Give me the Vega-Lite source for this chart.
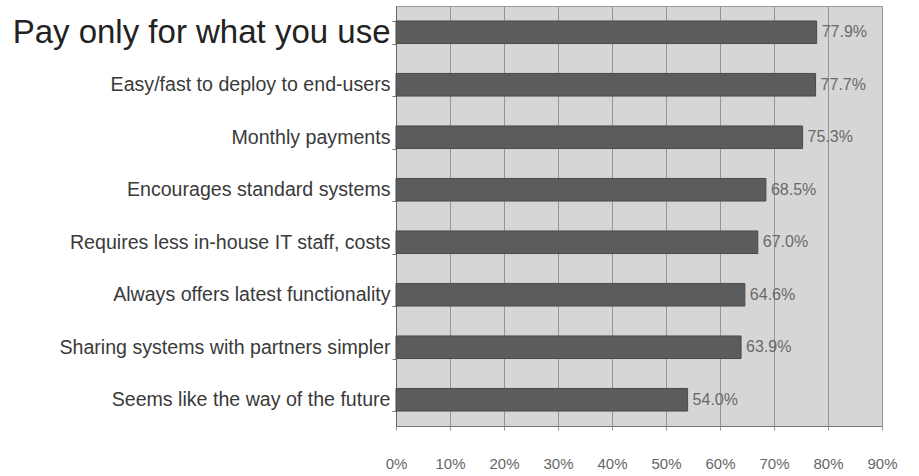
{
  "$schema": "https://vega.github.io/schema/vega-lite/v6.json",
  "autosize": "none",
  "width": 486,
  "height": 420,
  "padding": {"left": 396, "top": 6, "right": 37, "bottom": 50},
  "background": "white",
  "config": {
    "view": {"fill": "#d6d6d6", "stroke": "#9a9a9a", "strokeWidth": 1},
    "font": "Liberation Sans"
  },
  "data": {
    "values": [
      {"reason": "Pay only for what you use", "share": 0.779},
      {"reason": "Easy/fast to deploy to end-users", "share": 0.777},
      {"reason": "Monthly payments", "share": 0.753},
      {"reason": "Encourages standard systems", "share": 0.685},
      {"reason": "Requires less in-house IT staff, costs", "share": 0.670},
      {"reason": "Always offers latest functionality", "share": 0.646},
      {"reason": "Sharing systems with partners simpler", "share": 0.639},
      {"reason": "Seems like the way of the future", "share": 0.540}
    ]
  },
  "encoding": {
    "y": {
      "field": "reason",
      "type": "nominal",
      "sort": null,
      "scale": {"paddingInner": 0.57, "paddingOuter": 0.285},
      "axis": {
        "title": null,
        "tickBand": "extent",
        "tickSize": 4,
        "tickColor": "#777",
        "domainColor": "#666",
        "labelPadding": 2,
        "labelLimit": 400,
        "labelFont": "Liberation Sans",
        "labelFontSize": {"condition": {"test": "datum.value == 'Pay only for what you use'", "value": 33}, "value": 19.6},
        "labelColor": {"condition": {"test": "datum.value == 'Pay only for what you use'", "value": "#222222"}, "value": "#3a3a3a"}
      }
    },
    "x": {
      "field": "share",
      "type": "quantitative",
      "scale": {"domain": [0, 0.9], "nice": false},
      "axis": {
        "title": null,
        "format": ".0%",
        "values": [0, 0.1, 0.2, 0.3, 0.4, 0.5, 0.6, 0.7, 0.8, 0.9],
        "grid": true,
        "gridColor": "#949494",
        "gridWidth": 1,
        "domainColor": "#777",
        "tickColor": "#999",
        "tickSize": 4,
        "labelFlush": false,
        "labelPadding": 26,
        "labelFontSize": 15,
        "labelColor": "#666",
        "labelFont": "Liberation Sans"
      }
    }
  },
  "layer": [
    {"mark": {"type": "bar", "color": "#5c5c5c", "stroke": "#4a4a4a", "strokeWidth": 1}},
    {
      "mark": {"type": "text", "align": "left", "baseline": "middle", "dx": 5, "fontSize": 16, "color": "#6a6a6a", "font": "Liberation Sans"},
      "encoding": {"text": {"field": "share", "type": "quantitative", "format": ".1%"}}
    }
  ]
}
